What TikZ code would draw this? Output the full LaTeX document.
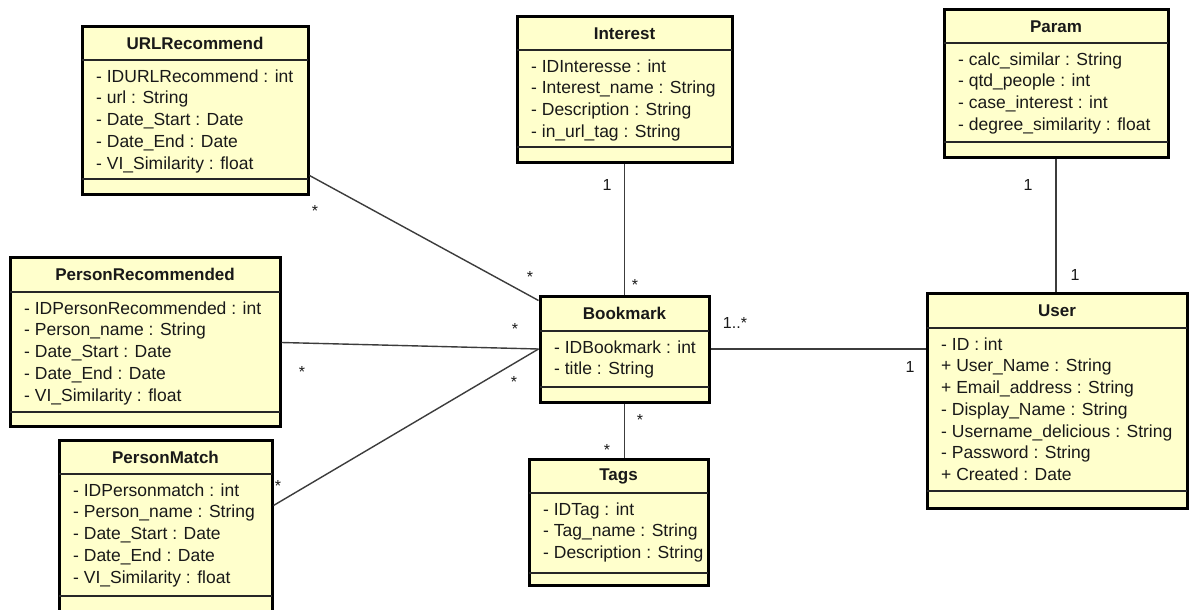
\documentclass[tikz,border=0pt]{standalone}
\usepackage{fontspec}
\setmainfont{Liberation Sans}
\usetikzlibrary{calc}
\definecolor{umlfill}{RGB}{255,255,204}
\definecolor{inkcol}{RGB}{25,25,25}
\definecolor{linecol}{RGB}{60,60,60}
\tikzset{
  classbox/.style={draw=black, line width=3pt, fill=umlfill, inner sep=0pt},
  sepline/.style={draw=black!85, line width=1.3pt},
  titletext/.style={font=\fontsize{17}{20}\selectfont\bfseries, text=inkcol, inner sep=0pt},
  attrtext/.style={font=\fontsize{17.5}{20}\selectfont, text=inkcol, inner sep=0pt},
  assoc/.style={draw=linecol, line width=1.4pt},
  mult/.style={font=\fontsize{16}{18}\selectfont, text=inkcol, inner sep=0pt}
}
\newcommand{\umlclass}[9]{%
  \node[classbox, minimum width={(#4)-(#2)}, minimum height={(#5)-(#3)}] (#1) at ({((#2)+(#4))/2},{((#3)+(#5))/2}) {};
  \draw[sepline] (#2,#6) -- (#4,#6);
  \draw[sepline] (#2,#7) -- (#4,#7);
  \node[titletext] (#1-title) at ({((#2)+(#4))/2},{((#3)+(#6))/2}) {#8};
  \foreach \t [count=\i] in {#9} {\node[attrtext, anchor=base west] at ({(#2)+14},{(#6)+\i*21.7+0.5}) {\t};}
}
\begin{document}
\begin{tikzpicture}[x=1pt,y=-1pt]
\useasboundingbox[fill=white] (0,0) rectangle (1189,610);
\umlclass{url}{82}{27}{308}{194}{60}{179}{URLRecommend}{{- IDURLRecommend : int},{- url : String},{- Date\_Start : Date},{- Date\_End : Date},{- VI\_Similarity : float}}
\umlclass{int}{517}{17}{732}{162}{50}{147}{Interest}{{- IDInteresse : int},{- Interest\_name : String},{- Description : String},{- in\_url\_tag : String}}
\umlclass{param}{944}{10}{1168}{157}{43}{142}{Param}{{- calc\_similar : String},{- qtd\_people : int},{- case\_interest : int},{- degree\_similarity : float}}
\umlclass{pr}{10}{257}{280}{426}{292}{412}{PersonRecommended}{{- IDPersonRecommended : int},{- Person\_name : String},{- Date\_Start : Date},{- Date\_End : Date},{- VI\_Similarity : float}}
\umlclass{pm}{59}{440}{272}{614}{474}{596}{PersonMatch}{{- IDPersonmatch : int},{- Person\_name : String},{- Date\_Start : Date},{- Date\_End : Date},{- VI\_Similarity : float}}
\umlclass{bm}{540}{296}{709}{402}{331}{387}{Bookmark}{{- IDBookmark : int},{- title : String}}
\umlclass{tags}{529}{459}{708}{585}{493}{573}{Tags}{{- IDTag : int},{- Tag\_name : String},{- Description : String}}
\umlclass{user}{927}{293}{1187}{508}{328}{491}{User}{{- ID : int},{+ User\_Name : String},{+ Email\_address : String},{- Display\_Name : String},{- Username\_delicious : String},{- Password : String},{+ Created : Date}}
% associations
\draw[assoc] ($(url.south east)+(0,-20)$) -- ($(bm.north west)+(0,6)$);
\draw[assoc] ($(pr.north east)+(0,87)$) -- (bm.west);
\draw[assoc] ($(pm.north east)+(0,67)$) -- (bm.west);
\draw[assoc] (int.south) -- (bm.north);
\draw[assoc] (bm.south) -- (bm.south |- tags.north);
\draw[assoc] (bm.east) -- (bm.east -| user.west);
\draw[assoc] (param.south) -- (param.south |- user.north);
% multiplicities
\node[mult] (m1) at (315,211) {*};
\node[mult] (m2) at (530,277) {*};
\node[mult] (m3) at (515,329) {*};
\node[mult] (m4) at (302,372) {*};
\node[mult] (m5) at (514,382) {*};
\node[mult] (m6) at (278,486) {*};
\node[mult] (m7) at (607,185) {1};
\node[mult] (m8) at (635,285) {*};
\node[mult] (m9) at (640,420) {*};
\node[mult] (m10) at (607,450) {*};
\node[mult] (m11) at (735,323) {1..*};
\node[mult] (m12) at (910,367) {1};
\node[mult] (m13) at (1028,185) {1};
\node[mult] (m14) at (1075,275) {1};
\end{tikzpicture}
\end{document}
